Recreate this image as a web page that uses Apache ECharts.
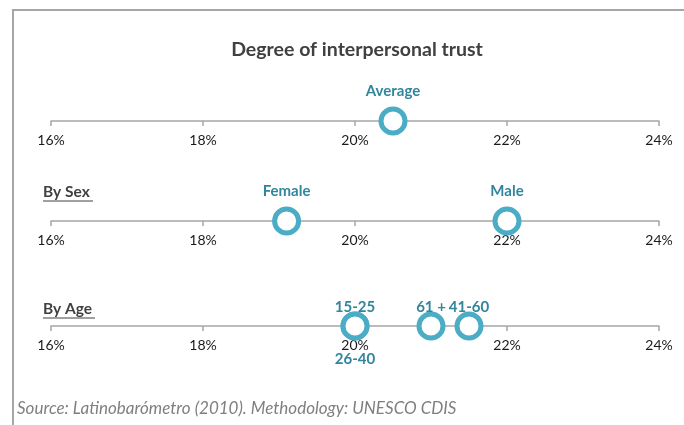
<!DOCTYPE html>
<html>
<head>
<meta charset="utf-8">
<script src="https://cdn.jsdelivr.net/npm/echarts@6/dist/echarts.min.js"></script>
<style>
  html, body { margin: 0; padding: 0; background: #fff; }
  #chart { width: 684px; height: 425px; }
</style>
</head>
<body>
<div id="chart"></div>
<script>
// values (percent)
const avgNames = ['Average'];
const avgValues = [20.5];
const sexNames = ['Female', 'Male'];
const sexValues = [19.1, 22.0];
const ageNames = ['15-25', '26-40', '61 +', '41-60'];
const ageValues = [20.0, 20.0, 21.0, 21.5];
const axisMin = 16;
const axisMax = 24;
const axisStep = 2;

const font = 'Lato, "Open Sans", sans-serif';
const ringColor = '#4bacc6';
const labelColor = '#31859c';
const axisLineY = [121, 221, 326];

function makeGrid(y) {
    return { left: 51, right: 25, top: y - 20, height: 20, containLabel: false };
}

function makeXAxis(i) {
    return {
        type: 'value',
        gridIndex: i,
        min: axisMin,
        max: axisMax,
        interval: axisStep,
        position: 'bottom',
        splitLine: { show: false },
        axisLine: { show: true, onZero: false, lineStyle: { color: '#a6a6a6', width: 1.5 } },
        axisTick: { show: true, length: 5, lineStyle: { color: '#a6a6a6', width: 1.5 } },
        axisLabel: {
            margin: 12,
            color: '#1a1a1a',
            fontFamily: font,
            fontSize: 14,
            formatter: '{value}%'
        }
    };
}

function makeYAxis(i) {
    return { type: 'value', gridIndex: i, min: 0, max: 1, show: false };
}

function makeSeries(i, names, values, dist) {
    return {
        type: 'scatter',
        xAxisIndex: i,
        yAxisIndex: i,
        symbol: 'circle',
        symbolSize: 24,
        z: 5,
        itemStyle: { color: '#fff', borderColor: ringColor, borderWidth: 5, opacity: 1 },
        label: {
            show: true,
            position: 'top',
            distance: dist,
            formatter: '{b}',
            color: labelColor,
            fontFamily: font,
            fontWeight: 'bold',
            fontSize: 15
        },
        data: names.map(function (n, k) {
            const item = { name: n, value: [values[k], 0] };
            if (n === '26-40') {
                item.label = { position: 'bottom', distance: 11 };
            }
            return item;
        })
    };
}

const option = {
    animation: false,
    grid: axisLineY.map(makeGrid),
    xAxis: [0, 1, 2].map(makeXAxis),
    yAxis: [0, 1, 2].map(makeYAxis),
    series: [
        makeSeries(0, avgNames, avgValues, 8),
        makeSeries(1, sexNames, sexValues, 8),
        makeSeries(2, ageNames, ageValues, -3)
    ],
    graphic: [
        {
            type: 'rect',
            shape: { x: 13, y: 10, width: 720, height: 500 },
            style: { fill: 'none', stroke: '#a6a6a6', lineWidth: 2 },
            silent: true
        },
        {
            type: 'text',
            x: 357, y: 50,
            style: {
                text: 'Degree of interpersonal trust',
                fill: '#404040',
                font: 'bold 19.5px ' + font,
                textAlign: 'center',
                textVerticalAlign: 'middle'
            }
        },
        {
            type: 'text',
            x: 43, y: 192,
            style: {
                text: 'By Sex',
                fill: '#404040',
                font: 'bold 15.5px ' + font,
                textVerticalAlign: 'middle'
            }
        },
        {
            type: 'line',
            shape: { x1: 43, y1: 201, x2: 93, y2: 201 },
            style: { stroke: '#404040', lineWidth: 1 }
        },
        {
            type: 'text',
            x: 43, y: 309,
            style: {
                text: 'By Age',
                fill: '#404040',
                font: 'bold 15.5px ' + font,
                textVerticalAlign: 'middle'
            }
        },
        {
            type: 'line',
            shape: { x1: 43, y1: 318, x2: 95, y2: 318 },
            style: { stroke: '#404040', lineWidth: 1 }
        },
        {
            type: 'text',
            x: 17, y: 409,
            style: {
                text: 'Source: Latinobarómetro (2010). Methodology: UNESCO CDIS',
                fill: '#7f7f7f',
                font: 'italic 17px ' + font,
                textVerticalAlign: 'middle'
            }
        }
    ]
};

const chart = echarts.init(document.getElementById('chart'));
chart.setOption(option);
</script>
</body>
</html>
